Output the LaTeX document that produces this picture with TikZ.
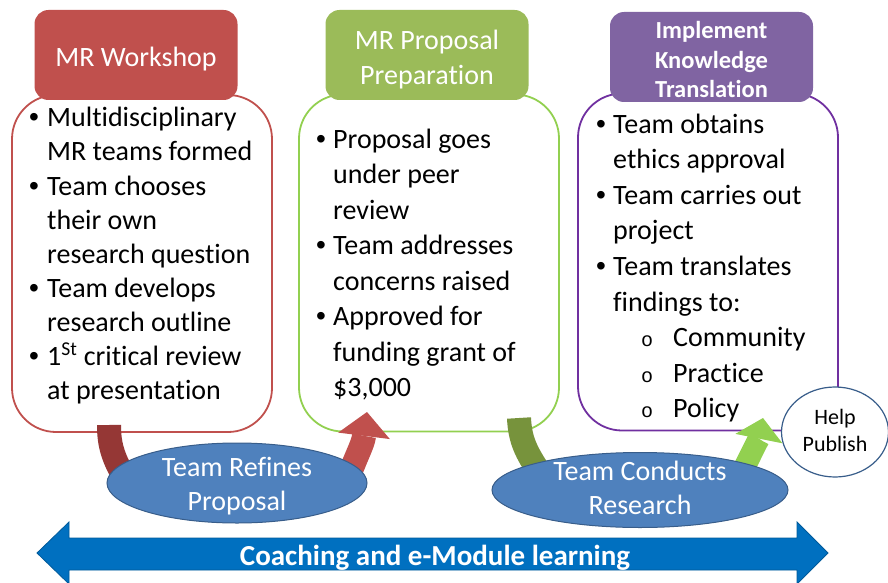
\documentclass[tikz,border=0pt]{standalone}
\usepackage{fontspec}
\setmainfont{Carlito}[Ligatures=NoCommon]
\newfontfamily\ringfont{Liberation Mono}
\newfontfamily\bulletfont{Liberation Sans}
\newcommand\itembullet{{\bulletfont\textbullet}}
\newcommand\itemring{\hspace*{28pt}\makebox[32pt][l]{\ringfont\fontsize{20}{20}\selectfont o}}
\usetikzlibrary{shapes.geometric, arrows.meta}
\definecolor{wsred}{HTML}{C0504D}
\definecolor{wsback}{HTML}{953735}
\definecolor{prgreen}{HTML}{9BBB59}
\definecolor{prline}{HTML}{92D050}
\definecolor{prback}{HTML}{77933C}
\definecolor{trpurple}{HTML}{8064A2}
\definecolor{trline}{HTML}{7030A0}
\definecolor{ovalblue}{HTML}{4F81BD}
\definecolor{ovalline}{HTML}{385D8A}
\definecolor{coachblue}{HTML}{0070C0}
\pgfdeclarelayer{panels}
\pgfdeclarelayer{bands}
\pgfsetlayers{panels,bands,main}

\begin{document}
\begin{tikzpicture}[x=1pt, y=-1pt,
  every node/.style={inner sep=0pt},
  stagehead/.style={rectangle, rounded corners=14pt, minimum width=203pt, minimum height=90pt},
  headtext/.style={text=white, align=center},
  stagepanel/.style={rectangle, draw, line width=1.8pt, rounded corners=44pt, fill=white, minimum width=260pt, minimum height=337pt},
  itemlist/.style={anchor=base west},
  cycleoval/.style={ellipse, draw=ovalline, line width=1pt, fill=ovalblue},
  ovaltext/.style={text=white, align=center, font=\fontsize{28}{34}\selectfont},
  bandline/.style={line width=24pt, line cap=butt}]
\useasboundingbox (0,0) rectangle (888,583);
\clip (0,0) rectangle (888,583);

\begin{pgfonlayer}{panels}
\node[stagepanel, draw=wsred] (workshop) at (142,263.5) {};
\node[stagepanel, draw=prline] (proposal) at (429,263) {};
\node[stagepanel, draw=trline] (translate) at (708,262) {};
\node[stagehead, fill=wsred] (wshead) at (136,55) {};
\node[stagehead, fill=prgreen] (prhead) at (427,55) {};
\node[stagehead, fill=trpurple] (trhead) at (711.5,57) {};
\end{pgfonlayer}
\node[headtext, font=\fontsize{28}{35}\selectfont] (wstext) at (136,59) {MR Workshop};
\node[headtext, font=\fontsize{28}{35}\selectfont] (prtext) at (427,59.5) {MR Proposal\\Preparation};
\node[headtext, font=\bfseries\fontsize{24.5}{29.5}\selectfont] (trtext) at (711.5,59.5) {Implement\\Knowledge\\Translation};

\node[itemlist, font=\fontsize{28}{34}\selectfont] (wslist) at (29,127) {\begin{tabular}[t]{@{}p{18pt}@{}l@{}}
\itembullet & Multidisciplinary\\
 & MR teams formed\\
\itembullet & Team chooses\\
 & their own\\
 & research question\\
\itembullet & Team develops\\
 & research outline\\
\itembullet & 1\textsuperscript{St} critical review\\
 & at presentation
\end{tabular}};
\node[itemlist, font=\fontsize{28}{35.5}\selectfont] (prlist) at (316,148) {\begin{tabular}[t]{@{}p{17pt}@{}l@{}}
\itembullet & Proposal goes\\
 & under peer\\
 & review\\
\itembullet & Team addresses\\
 & concerns raised\\
\itembullet & Approved for\\
 & funding grant of\\
 & \$3,000
\end{tabular}};
\node[itemlist, font=\fontsize{28}{35.6}\selectfont] (trlist) at (596,133) {\begin{tabular}[t]{@{}p{17pt}@{}l@{}}
\itembullet & Team obtains\\
 & ethics approval\\
\itembullet & Team carries out\\
 & project\\
\itembullet & Team translates\\
 & findings to:\\
 & \itemring Community\\
 & \itemring Practice\\
 & \itemring Policy
\end{tabular}};

\node[cycleoval, minimum width=260pt, minimum height=80pt] (refine) at (237,483) {};
\node[ovaltext] (refinetext) at (237,486) {Team Refines\\Proposal};
\node[cycleoval, minimum width=296pt, minimum height=75pt] (conduct) at (640,490) {};
\node[ovaltext] (conducttext) at (640,488) {Team Conducts\\Research};
\node[ellipse, draw=ovalline, line width=1.2pt, fill=white, minimum width=107pt, minimum height=90pt] (publish) at (835,432) {};
\node[align=center, font=\fontsize{22}{27}\selectfont] (publishtext) at (835,430.5) {Help\\Publish};

\coordinate (wsfoot) at (109,425);
\coordinate (prtip) at (367,412);
\coordinate (prfoot) at (519,418);
\coordinate (trtip) at (763,418);
\begin{pgfonlayer}{bands}
\draw[bandline, wsback, shorten >=-12pt] (wsfoot) .. controls (109,445) and (113,457) .. (refine.172);
\draw[bandline, wsred, shorten <=-12pt, -{Triangle[width=52pt, length=24pt, line width=0pt]}] (refine.9) .. controls (358,452) and (363,444) .. (prtip);
\draw[bandline, prback, shorten >=-12pt] (prfoot) .. controls (520,440) and (526,452) .. (conduct.166);
\draw[bandline, line width=22pt, prline, shorten <=-12pt, -{Triangle[width=48pt, length=21pt, line width=0pt]}] (conduct.14) .. controls (753,450) and (759,438) .. (trtip);
\end{pgfonlayer}

\filldraw[fill=coachblue, draw=coachblue!80!black, line width=0.8pt] (37,553) -- (69,522) -- (69,538) -- (797,538) -- (797,522) -- (828,553) -- (797,584) -- (797,570) -- (69,570) -- (69,584) -- cycle;
\node[anchor=base, text=white, font=\bfseries\fontsize{29}{34}\selectfont] (coach) at (435,565) {Coaching and e-Module learning};
\end{tikzpicture}
\end{document}
